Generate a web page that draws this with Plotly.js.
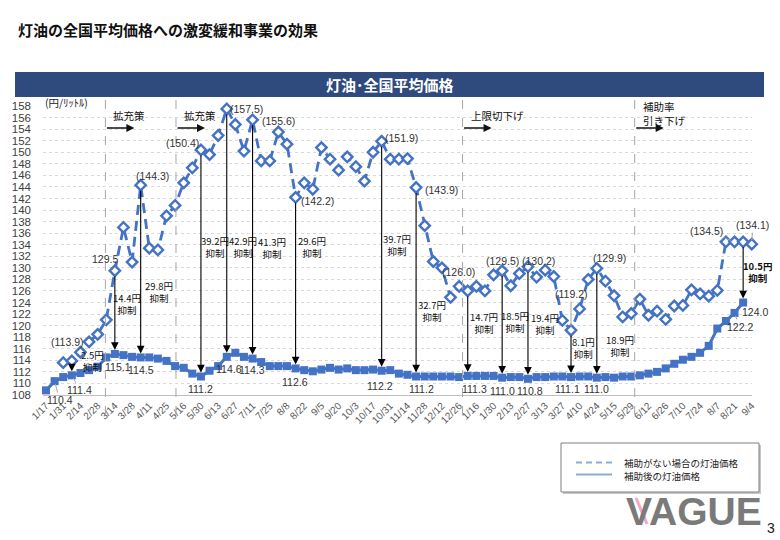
<!DOCTYPE html>
<html>
<head>
<meta charset="utf-8">
<script src="https://cdn.plot.ly/plotly-3.0.1.min.js"></script>
<style>
  html, body { margin: 0; padding: 0; background: #fff; }
  #chart { width: 780px; height: 540px; }
</style>
</head>
<body>
<div id="chart"></div>
<script>
// Weekly survey dates (2022/1/17 – 2023/9/4)
const dates = [
  '1/17','1/24','1/31','2/7','2/14','2/21','2/28','3/7','3/14','3/22',
  '3/28','4/4','4/11','4/18','4/25','5/9','5/16','5/23','5/30','6/6',
  '6/13','6/20','6/27','7/4','7/11','7/19','7/25','8/1','8/8','8/15',
  '8/22','8/29','9/5','9/12','9/20','9/26','10/3','10/11','10/17','10/24',
  '10/31','11/7','11/14','11/21','11/28','12/5','12/12','12/19','12/26','1/10',
  '1/16','1/23','1/30','2/6','2/13','2/20','2/27','3/6','3/13','3/20',
  '3/27','4/3','4/10','4/17','4/24','5/8','5/15','5/22','5/29','6/5',
  '6/12','6/19','6/26','7/3','7/10','7/18','7/24','7/31','8/7','8/14',
  '8/21','8/28','9/4'
];

// Price without the subsidy (yen per litre)
const priceWithout = [
  null, null, 113.6, 113.9, 115.4, 117.2, 118.5, 121.0, 129.5, 137.0,
  131.0, 144.3, 133.4, 133.1, 139.0, 140.8, 144.7, 147.3, 150.4, 149.6,
  152.9, 157.5, 154.8, 150.2, 155.6, 148.5, 148.5, 153.5, 151.4, 142.2,
  144.7, 143.6, 150.8, 148.8, 146.9, 149.2, 147.5, 145.0, 150.0, 151.9,
  148.8, 148.8, 148.9, 143.9, 137.3, 131.1, 130.0, 124.9, 126.8, 126.0,
  126.8, 126.0, 128.8, 129.5, 126.9, 129.0, 130.2, 128.4, 129.6, 128.5,
  120.9, 119.2, 122.9, 128.0, 129.9, 127.7, 125.2, 121.5, 122.1, 124.6,
  121.8, 122.5, 121.1, 123.4, 123.5, 126.2, 125.5, 125.1, 126.1, 134.5,
  134.5, 134.5, 134.1
];

// Actual price after the subsidy (yen per litre)
const priceWith = [
  108.8, 110.4, 111.1, 111.4, 111.8, 112.3, 112.9, 114.5, 115.1, 114.9,
  114.6, 114.5, 114.5, 114.3, 113.9, 113.0, 112.7, 111.7, 111.2, 112.2,
  113.0, 114.6, 115.3, 114.6, 114.3, 113.7, 113.0, 113.0, 113.0, 112.6,
  112.3, 112.1, 112.4, 112.7, 112.4, 112.6, 112.3, 112.3, 112.4, 112.2,
  112.3, 111.7, 111.5, 111.2, 111.2, 111.2, 111.2, 111.2, 111.1, 111.3,
  111.3, 111.3, 111.3, 111.0, 111.1, 111.1, 110.8, 111.1, 111.1, 111.2,
  111.2, 111.1, 111.2, 111.2, 111.0, 111.1, 111.0, 111.2, 111.2, 111.4,
  111.7, 112.0, 112.6, 113.4, 114.1, 114.6, 115.3, 116.5, 119.5, 120.8,
  122.2, 124.0, null
];

const yTicks = [108,110,112,114,116,118,120,122,124,126,128,130,132,134,136,138,140,142,144,146,148,150,152,154,156,158];
const xTickLabels = dates.filter((d, i) => i % 2 === 0);

const seriesNames = ['補助がない場合の灯油価格', '補助後の灯油価格'];

// Policy phases: label and the boundary between weeks where each begins
const phases = [
  { label: '拡充策', at: 6.9 },
  { label: '拡充策', at: 15.1 },
  { label: '上限切下げ', at: 48.4 },
  { label: '補助率<br>引き下げ', at: 68.4 }
];

// Weeks where the suppression amount is called out
const callouts = [3, 8, 11, 18, 21, 24, 29, 39, 43, 49, 53, 56, 61, 64, 81];

// ---------- layout helpers (pixel -> paper) ----------
const M = { l: 43, r: 28, t: 106, b: 145 };
const PW = 780 - M.l - M.r, PH = 540 - M.t - M.b;
const px = x => (x - M.l) / PW;
const py = y => (540 - M.b - y) / PH;

const BLUE = '#4472c4';
const JP = '"Noto Sans CJK JP", "Noto Sans", sans-serif';
const NUM = '"Liberation Sans Narrow", "Liberation Sans", Arial, sans-serif';
const MIX = '"Liberation Sans Narrow", "Noto Sans CJK JP", sans-serif';

const traces = [
  {
    x: dates, y: priceWith, type: 'scatter', mode: 'lines+markers',
    name: seriesNames[1], cliponaxis: false,
    line: { color: BLUE, width: 3 },
    marker: { symbol: 'square', size: 8, color: BLUE }
  },
  {
    x: dates, y: priceWithout, type: 'scatter', mode: 'lines+markers',
    name: seriesNames[0], cliponaxis: false,
    line: { color: BLUE, width: 2.8, dash: '10px,6px' },
    marker: { symbol: 'diamond', size: 8, color: '#ffffff', line: { color: BLUE, width: 2.4 } }
  }
];

const ann = [];
const shapes = [];
const paren = v => '(' + v + ')';

// Title
ann.push({ xref: 'paper', yref: 'paper', x: px(16), y: py(30), xanchor: 'left', yanchor: 'middle',
  text: '<b>灯油の全国平均価格への激変緩和事業の効果</b>', showarrow: false,
  font: { family: JP, size: 15, color: '#111' } });

// Banner
shapes.push({ type: 'rect', xref: 'paper', yref: 'paper', x0: px(15), x1: px(764), y0: py(97), y1: py(72),
  fillcolor: '#2f4a7c', line: { width: 0 }, layer: 'below' });
ann.push({ xref: 'paper', yref: 'paper', x: px(390), y: py(84.5), xanchor: 'center', yanchor: 'middle',
  text: '<b>灯油･全国平均価格</b>', showarrow: false, font: { family: JP, size: 15, color: '#fff' } });

// Unit label
ann.push({ xref: 'paper', yref: 'paper', x: px(43), y: py(102), xanchor: 'left', yanchor: 'middle',
  text: '(円/ﾘｯﾄﾙ)', showarrow: false, font: { family: JP, size: 10.5, color: '#222' } });

// Phase boundaries, labels and arrows
phases.forEach(p => {
  shapes.push({ type: 'line', xref: 'x', yref: 'paper', x0: p.at, x1: p.at, y0: py(415), y1: py(97),
    line: { color: '#a6a6a6', width: 1, dash: 'dash' } });
  const two = p.label.indexOf('<br>') >= 0;
  ann.push({ xref: 'x', yref: 'paper', x: p.at, xshift: 6, y: py(two ? 113 : 115), xanchor: 'left', yanchor: 'middle',
    text: p.label, showarrow: false, align: 'left', font: { family: JP, size: 10.5, color: '#111' } });
  ann.push({ xref: 'x', yref: 'paper', x: p.at, xshift: 29, y: py(128), ax: -29, ay: 0, axref: 'pixel', ayref: 'pixel',
    text: '', showarrow: true, arrowhead: 2, arrowsize: 1, arrowwidth: 1.6, arrowcolor: '#111' });
});

// Suppression arrows and their amounts
const amountPos = {
  3: [21, 113.8], 8: [12, 123.7], 11: [18, 125.9], 18: [14, 133.55], 21: [16, 133.55],
  24: [19, 133.4], 29: [16, 133.55], 39: [15, 133.9], 43: [16, 122.5], 49: [16, 120.4],
  53: [13, 120.6], 56: [17, 120.2], 61: [12, 116.1], 64: [23, 116.4], 81: [14, 129.2]
};
callouts.forEach(i => {
  const hi = priceWithout[i], lo = priceWith[i];
  ann.push({ x: i, y: lo, ax: i, ay: hi, axref: 'x', ayref: 'y', xref: 'x', yref: 'y',
    text: '', showarrow: true, arrowhead: 2, arrowsize: 1.4, arrowwidth: 1.1, arrowcolor: '#000',
    standoff: 4, startstandoff: 4 });
  const amt = (hi - lo).toFixed(1) + '円<br>抑制';
  const p = amountPos[i];
  const bold = i === 81;
  ann.push({ x: i, xshift: p[0], y: p[1], xref: 'x', yref: 'y', showarrow: false,
    text: bold ? '<b>' + amt + '</b>' : amt, align: 'center',
    font: { family: MIX, size: 9.5, color: '#111' } });
});

// Value labels for the no-subsidy series: [index, xshift, yshift, wrapped in parentheses]
const topLabels = [
  [3, -4, 19, true], [8, -10, 12, false], [11, 12, 9, true], [18, -18, 7, true],
  [21, 20, 0, true], [24, 26, -1, true], [29, 22, -4, true], [39, 20, 3, true],
  [43, 25, -2, true], [49, -9, 19, true], [53, 0, 10, true], [56, 11, 6, true],
  [64, 13, 10, true]
];
topLabels.forEach(([i, dx, dy, wrap]) => {
  const v = priceWithout[i].toFixed(1);
  ann.push({ x: i, y: priceWithout[i], xref: 'x', yref: 'y', xshift: dx, yshift: dy, showarrow: false,
    text: wrap ? paren(v) : v, font: { family: NUM, size: 10.5, color: '#333' } });
});
// labels with leader lines
[[61, 0, -36], [80, -28, -11], [82, 1, -19]].forEach(([i, ax, ay]) => {
  ann.push({ x: i, y: priceWithout[i], xref: 'x', yref: 'y', ax: ax, ay: ay, showarrow: true,
    arrowhead: 0, arrowwidth: 1, arrowcolor: '#a6a6a6', standoff: 4,
    text: paren(priceWithout[i].toFixed(1)), font: { family: NUM, size: 10.5, color: '#333' } });
});

// Value labels for the subsidised series
const lowLabels = [
  [8, 3, -13], [11, 0, -13], [18, 0, -12], [21, 2, -12], [24, -1, -11], [29, -1, -14],
  [39, -2, -15], [43, 5, -12], [49, 7, -13], [53, 0, -13], [56, 2, -12], [61, -4, -12],
  [64, 0, -11], [81, 12, -9]
];
lowLabels.forEach(([i, dx, dy]) => {
  ann.push({ x: i, y: priceWith[i], xref: 'x', yref: 'y', xshift: dx, yshift: dy, showarrow: false,
    text: priceWith[i].toFixed(1), font: { family: NUM, size: 10.5, color: '#333' } });
});
[[1, 5, 19], [3, 8, 15], [80, 5, 14]].forEach(([i, ax, ay]) => {
  ann.push({ x: i, y: priceWith[i], xref: 'x', yref: 'y', ax: ax, ay: ay, showarrow: true,
    arrowhead: 0, arrowwidth: 1, arrowcolor: '#a6a6a6', standoff: 3,
    text: priceWith[i].toFixed(1), font: { family: NUM, size: 10.5, color: '#333' } });
});

// Legend box
shapes.push({ type: 'rect', xref: 'paper', yref: 'paper', x0: px(563), x1: px(761), y0: py(494), y1: py(445),
  fillcolor: '#c8c8c8', line: { width: 0 } });
shapes.push({ type: 'rect', xref: 'paper', yref: 'paper', x0: px(561), x1: px(759), y0: py(492), y1: py(443),
  fillcolor: '#fff', line: { color: '#7f7f7f', width: 1 } });
shapes.push({ type: 'line', xref: 'paper', yref: 'paper', x0: px(576), x1: px(612), y0: py(462.5), y1: py(462.5),
  line: { color: '#8ea9db', width: 2, dash: '6px,4px' } });
shapes.push({ type: 'line', xref: 'paper', yref: 'paper', x0: px(576), x1: px(612), y0: py(474.5), y1: py(474.5),
  line: { color: '#8ea9db', width: 2 } });
seriesNames.forEach((n, k) => {
  ann.push({ xref: 'paper', yref: 'paper', x: px(622), y: py(k === 0 ? 462.5 : 475.5), xanchor: 'left', yanchor: 'middle',
    text: n, showarrow: false, font: { family: JP, size: 9.5, color: '#222' } });
});

// Watermark and page number
shapes.push({ type: 'line', xref: 'paper', yref: 'paper', x0: px(636), x1: px(647), y0: py(498), y1: py(524),
  line: { color: '#f2a7c3', width: 3 } });
ann.push({ xref: 'paper', yref: 'paper', x: px(694), y: py(511), xanchor: 'center', yanchor: 'middle',
  text: '<b>VAGUE</b>', showarrow: false, font: { family: NUM, size: 39, color: '#7a7a7a' } });
ann.push({ xref: 'paper', yref: 'paper', x: px(771), y: py(528), xanchor: 'center', yanchor: 'middle',
  text: '3', showarrow: false, font: { family: '"Liberation Sans", Arial, sans-serif', size: 14, color: '#222' } });

const layout = {
  width: 780, height: 540,
  margin: M,
  paper_bgcolor: '#fff', plot_bgcolor: '#fff',
  showlegend: false,
  xaxis: {
    type: 'category', range: [-0.35, 82.03],
    tickmode: 'array', tickvals: xTickLabels, ticktext: xTickLabels,
    tickangle: -45, tickfont: { family: NUM, size: 10, color: '#595959' },
    showgrid: false, zeroline: false,
    showline: true, linecolor: '#bfbfbf', linewidth: 1,
    ticks: ''
  },
  yaxis: {
    range: [108, 158], tickmode: 'array', tickvals: yTicks,
    tickfont: { family: '"Liberation Sans", Arial, sans-serif', size: 11.5, color: '#404040' },
    showgrid: true, gridcolor: '#d9d9d9', griddash: 'dot', gridwidth: 1,
    zeroline: false, showline: false, ticks: '', ticklabelstandoff: 11
  },
  shapes: shapes,
  annotations: ann
};

Plotly.newPlot('chart', traces, layout, { staticPlot: true, displayModeBar: false });
</script>
</body>
</html>
